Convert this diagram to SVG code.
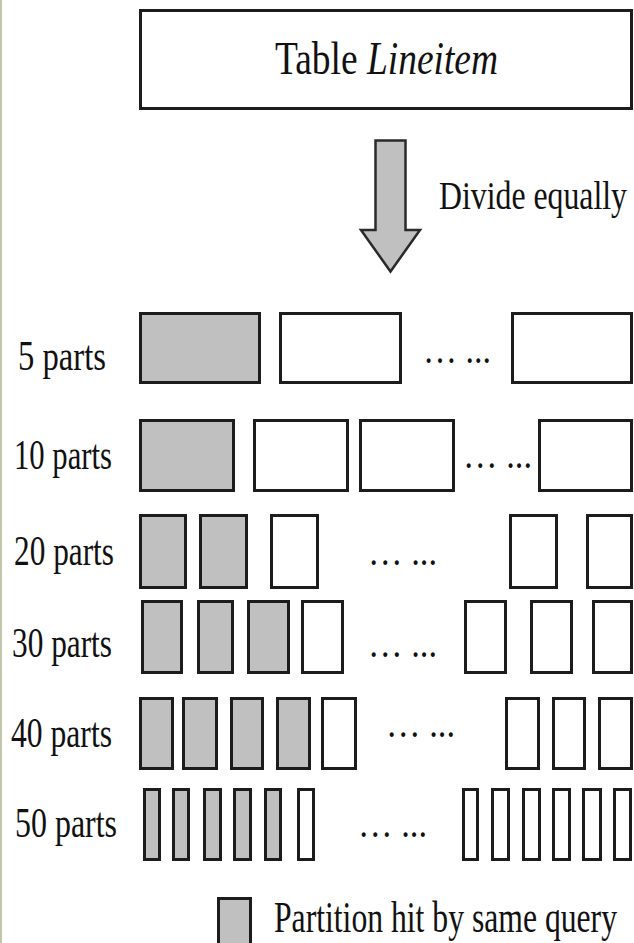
<svg xmlns="http://www.w3.org/2000/svg" width="634" height="943" viewBox="0 0 634 943">
<style>
text{font-family:"Liberation Serif","Times New Roman",serif;fill:#111}
.lbl{font-size:42px}
.dots{font-size:40px}
.p{fill:#fff;stroke:#1c1c1c;stroke-width:3}
.h{fill:#c0c0c0;stroke:#1c1c1c;stroke-width:3}
</style>
<rect x="0" y="0" width="634" height="943" fill="#fff"/>
<rect x="0" y="0" width="2" height="943" fill="#c2c6ab"/>
<g id="table">
<rect class="p" x="140.5" y="10.5" width="491" height="98"/>
<text x="275" y="74" font-size="47" textLength="223" lengthAdjust="spacingAndGlyphs">Table <tspan font-style="italic">Lineitem</tspan></text>
</g>
<g id="connectors">
<polygon points="375.5,140.5 405.5,140.5 405.5,230 420,230 390.5,271.5 361,230 375.5,230" fill="#c0c0c0" stroke="#2a2a2a" stroke-width="2.5" stroke-linejoin="miter"/>
<text x="439" y="209" font-size="41" textLength="188" lengthAdjust="spacingAndGlyphs">Divide equally</text>
</g>
<g id="row5">
<text class="lbl" x="18" y="370" textLength="88" lengthAdjust="spacingAndGlyphs">5 parts</text>
<rect class="h" x="140.5" y="313.5" width="119" height="69"/>
<rect class="p" x="280.5" y="313.5" width="120" height="69"/>
<text class="dots" x="423" y="363" textLength="68" lengthAdjust="spacingAndGlyphs">… ...</text>
<rect class="p" x="512.5" y="313.5" width="119" height="69"/>
</g>
<g id="row10">
<text class="lbl" x="14" y="469" textLength="98" lengthAdjust="spacingAndGlyphs">10 parts</text>
<rect class="h" x="140.5" y="420.5" width="93" height="70"/>
<rect class="p" x="254.5" y="420.5" width="93" height="70"/>
<rect class="p" x="360.5" y="420.5" width="93" height="70"/>
<text class="dots" x="463" y="468" textLength="69" lengthAdjust="spacingAndGlyphs">… ...</text>
<rect class="p" x="539.5" y="420.5" width="92" height="70"/>
</g>
<g id="row20">
<text class="lbl" x="14" y="565" textLength="100" lengthAdjust="spacingAndGlyphs">20 parts</text>
<rect class="h" x="140.5" y="515.5" width="45" height="72"/>
<rect class="h" x="200.5" y="515.5" width="46" height="72"/>
<rect class="p" x="271.5" y="515.5" width="46" height="72"/>
<text class="dots" x="368" y="565" textLength="69" lengthAdjust="spacingAndGlyphs">… ...</text>
<rect class="p" x="510.5" y="515.5" width="46" height="72"/>
<rect class="p" x="587.5" y="515.5" width="44" height="72"/>
</g>
<g id="row30">
<text class="lbl" x="12" y="657" textLength="100" lengthAdjust="spacingAndGlyphs">30 parts</text>
<rect class="h" x="142.5" y="601.5" width="39" height="71"/>
<rect class="h" x="198.5" y="601.5" width="34" height="71"/>
<rect class="h" x="248.5" y="601.5" width="40" height="71"/>
<rect class="p" x="302.5" y="601.5" width="40" height="71"/>
<text class="dots" x="368" y="657" textLength="69" lengthAdjust="spacingAndGlyphs">… ...</text>
<rect class="p" x="465.5" y="601.5" width="40" height="71"/>
<rect class="p" x="531.5" y="601.5" width="40" height="71"/>
<rect class="p" x="593.5" y="601.5" width="38" height="71"/>
</g>
<g id="row40">
<text class="lbl" x="11" y="747" textLength="101" lengthAdjust="spacingAndGlyphs">40 parts</text>
<rect class="h" x="140.5" y="698.5" width="32" height="70"/>
<rect class="h" x="183.5" y="698.5" width="33" height="70"/>
<rect class="h" x="231.5" y="698.5" width="31" height="70"/>
<rect class="h" x="277.5" y="698.5" width="32" height="70"/>
<rect class="p" x="322.5" y="698.5" width="33" height="70"/>
<text class="dots" x="386" y="737" textLength="69" lengthAdjust="spacingAndGlyphs">… ...</text>
<rect class="p" x="506.5" y="698.5" width="32" height="70"/>
<rect class="p" x="553.5" y="698.5" width="31" height="70"/>
<rect class="p" x="599.5" y="698.5" width="32" height="70"/>
</g>
<g id="row50">
<text class="lbl" x="15" y="837" textLength="102" lengthAdjust="spacingAndGlyphs">50 parts</text>
<rect class="h" x="144.5" y="789.5" width="15" height="70"/>
<rect class="h" x="173.5" y="789.5" width="15" height="70"/>
<rect class="h" x="204.5" y="789.5" width="16" height="70"/>
<rect class="h" x="234.5" y="789.5" width="16" height="70"/>
<rect class="h" x="265.5" y="789.5" width="15" height="70"/>
<rect class="p" x="298.5" y="789.5" width="15" height="70"/>
<text class="dots" x="358" y="837" textLength="69" lengthAdjust="spacingAndGlyphs">… ...</text>
<rect class="p" x="463.5" y="789.5" width="14" height="70"/>
<rect class="p" x="492.5" y="789.5" width="16" height="70"/>
<rect class="p" x="523.5" y="789.5" width="16" height="70"/>
<rect class="p" x="553.5" y="789.5" width="16" height="70"/>
<rect class="p" x="583.5" y="789.5" width="17" height="70"/>
<rect class="p" x="614.5" y="789.5" width="16" height="70"/>
</g>
<g id="legend">
<rect class="h" x="218.5" y="898.5" width="32" height="55"/>
<text x="274" y="932" font-size="45" textLength="343" lengthAdjust="spacingAndGlyphs">Partition hit by same query</text>
</g>
</svg>
